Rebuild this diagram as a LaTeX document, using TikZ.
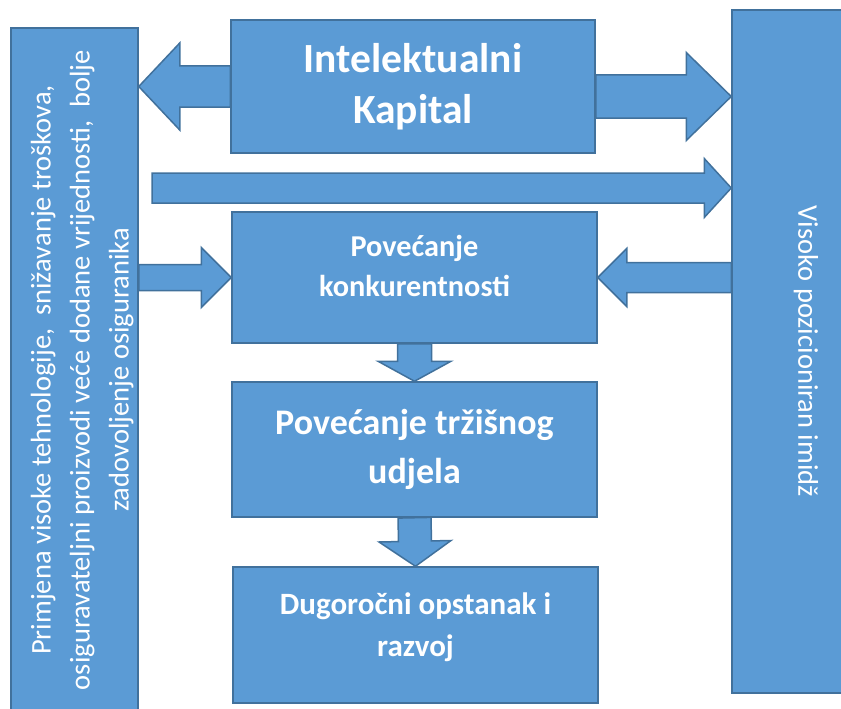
\documentclass[tikz,border=0pt]{standalone}
\usepackage{fontspec}
\setmainfont{Carlito}
\usetikzlibrary{calc,backgrounds}
\definecolor{boxfill}{HTML}{5B9BD5}
\definecolor{boxline}{HTML}{41719C}

% block arrow: start, tip, shaft half width, head half width, head length
\newcommand{\fatarrow}[5]{%
\coordinate (h) at ($(#2)!#5!(#1)$);
\draw[arrowbody] ($(#1)!#3!90:(#2)$) -- ($(h)!#3!90:(#2)$) -- ($(h)!#4!90:(#2)$) -- (#2)
  -- ($(h)!#4!-90:(#2)$) -- ($(h)!#3!-90:(#2)$) -- ($(#1)!#3!-90:(#2)$) -- cycle;}

\begin{document}
\begin{tikzpicture}[x=1pt,y=-1pt,
  box/.style={draw=boxline,fill=boxfill,line width=1.5pt,text=white,align=center,inner sep=0pt},
  arrowbody/.style={draw=boxline,fill=boxfill,line width=1.5pt,line join=miter}]
\useasboundingbox (0,0) rectangle (841,709);
\clip (0,0) rectangle (841,709);

\node[box,rotate=90,minimum width=684pt,minimum height=127pt,text height=113pt,
  font=\fontsize{28.5}{39}\selectfont] (leftbar) at (74.5,370)
  {Primjena visoke tehnologije,\ \ snižavanje troškova,\\
   osiguravateljni proizvodi veće dodane vrijednosti,\ \ bolje\\
   zadovoljenje osiguranika};
\node[box,rotate=-90,minimum width=683pt,minimum height=148pt,
  font=\fontsize{28.5}{39}\selectfont] (rightbar) at (806,351.5) {Visoko pozicioniran imidž};

\node[box,minimum width=364pt,minimum height=133pt,
  font=\bfseries\fontsize{41.5}{51}\selectfont] (kapital) at (413,86.5) {Intelektualni\\Kapital};
\node[box,minimum width=365pt,minimum height=131pt,text depth=24pt,
  font=\bfseries\fontsize{30.3}{40}\selectfont] (konk) at (414.5,277.5) {Povećanje\\konkurentnosti};
\node[box,minimum width=365pt,minimum height=135pt,
  font=\bfseries\fontsize{36}{49}\selectfont] (trziste) at (414.5,449.5) {Povećanje tržišnog\\udjela};
\node[box,minimum width=365pt,minimum height=136pt,text depth=20pt,
  font=\bfseries\fontsize{31}{42}\selectfont] (opstanak) at (415.5,635) {Dugoročni opstanak i\\razvoj};

\coordinate (kr) at ([yshift=-10pt]kapital.east);
\coordinate (tail) at (152,188);
\begin{scope}[on background layer]
\fatarrow{kapital.west}{kapital.west -| leftbar.south}{20.5pt}{43.5pt}{41pt}
\fatarrow{kr}{kr -| rightbar.south}{21.5pt}{44pt}{45pt}
\fatarrow{tail}{tail -| rightbar.south}{15pt}{29.5pt}{27pt}
\fatarrow{konk.west -| leftbar.south}{konk.west}{13pt}{30pt}{30pt}
\fatarrow{konk.east -| rightbar.south}{konk.east}{15pt}{29pt}{29pt}
\fatarrow{konk.south}{trziste.north}{17pt}{36.5pt}{20pt}
\fatarrow{trziste.south}{opstanak.north}{16.5pt}{36pt}{25pt}
\end{scope}
\end{tikzpicture}
\end{document}
